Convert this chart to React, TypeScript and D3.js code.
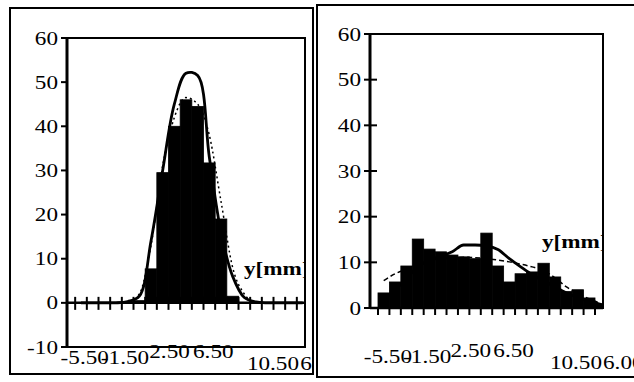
import * as d3 from 'd3';

// 20 class bins shared by both histograms
const BINS = d3.range(20);

// left panel: narrow distribution
const leftBars = [0, 0, 0, 0, 0, 0.5, 7.7, 29.5, 40, 46, 44.5, 31.7, 19, 1.5, 0, 0, 0, 0, 0, 0];
const leftFit = [0, 0, 0, 0, 0.3, 1.5, 14, 30, 45, 52, 51.5, 33, 16, 6, 1.2, 0.2, 0, 0, 0, 0];
const leftDotted = [0, 0, 0, 0, 0, 2, 13, 31, 42, 46.5, 45, 38, 23, 8, 2, 0, 0, 0, 0, 0];

// right panel: wide distribution
const rightBars = [3.3, 5.7, 9.2, 15.1, 12.9, 12.3, 11.6, 11.2, 10.8, 16.4, 9.2, 5.7, 7.5, 7.9, 9.8, 6.8, 3.6, 4, 2.2, 1];
const rightFit = [2, 4, 6.5, 9, 10.5, 11.3, 12.3, 13.8, 13.8, 13.6, 12.8, 10.8, 9, 7.3, 6, 4.6, 3.3, 2.3, 1.5, 0.8];
const rightDotted = [6, 7.5, 8.5, 9.5, 10.3, 10.8, 11, 11.1, 11, 10.8, 10.5, 10.1, 9.6, 9, 8.2, 6.6, 4.6, 3.2, 2, 1];

const xLabels = ['-5.50', '-1.50', '2.50', '6.50', '10.50', '6.00'];
const labelRow = [0, 0, -1, -1, 1, 1]; // staggered label rows
const leftLabelBin = [-1.25, 2.2, 6.35, 10.1, 14.72, 19.3]; // where each label starts, in bins
const rightLabelBin = [-1.25, 2.2, 6.35, 10.1, 15.05, 19.7];

const leftYTicks = [-10, 0, 10, 20, 30, 40, 50, 60];
const rightYTicks = [0, 10, 20, 30, 40, 50, 60];

const FONT = '"Liberation Serif", "Times New Roman", serif';
const FS = 19;
const STRETCH = 1.22;

const Txt = ({ x, y, anchor = 'start', bold = false, children }: any) => (
  <text
    transform={`translate(${x},${y}) scale(${STRETCH},1)`}
    textAnchor={anchor}
    fontSize={FS}
    fontWeight={bold ? 'bold' : 'normal'}
    style={{ fontFamily: FONT }}
  >
    {children}
  </text>
);

type PanelProps = {
  id: string;
  frame: { x: number; y: number; w: number; h: number };
  plot: { x: number; y: number; w: number; h: number };
  yTicks: number[];
  bars: number[];
  fit: number[];
  dotted: number[];
  dotDash: string;
  curve: d3.CurveFactory;
  labelBin: number[];
  labelBase: number;
  yTickOutside: boolean;
  unitY: number;
};

const Panel = (p: PanelProps) => {
  const { plot } = p;
  const step = plot.w / 20.4;
  const start = plot.x + step * 0.7;
  const x = d3.scaleBand<number>().domain(BINS).range([start, start + step * 20]).padding(0);
  const y = d3
    .scaleLinear()
    .domain(d3.extent(p.yTicks) as [number, number])
    .range([plot.y + plot.h, plot.y]);
  const y0 = y(0);
  const lx = d3.scaleLinear().domain([0, 1]).range([start, start + step]);

  const line = (curve: d3.CurveFactory) =>
    d3
      .line<number>()
      .x((_, i) => (x(i) ?? 0) + x.bandwidth() / 2)
      .y((d) => y(d))
      .curve(curve);

  const edges = d3
    .range(21)
    .map((i) => start + i * step)
    .filter((v) => v > plot.x + 1 && v < plot.x + plot.w);

  return (
    <g>
      <defs>
        <clipPath id={`clip-${p.id}`}>
          <rect x={plot.x} y={plot.y} width={plot.w} height={plot.h} />
        </clipPath>
        <clipPath id={`frame-${p.id}`}>
          <rect x={p.frame.x} y={p.frame.y} width={p.frame.w} height={p.frame.h} />
        </clipPath>
      </defs>
      <rect x={p.frame.x} y={p.frame.y} width={p.frame.w} height={p.frame.h} fill="white" stroke="black" strokeWidth={2} />
      <g clipPath={`url(#clip-${p.id})`}>
        {p.bars.map((v, i) =>
          v > 0 ? (
            <rect
              key={i}
              x={x(i)}
              y={y(v)}
              width={x.bandwidth()}
              height={y0 - y(v)}
              fill="black"
              stroke="black"
              strokeWidth={0.8}
            />
          ) : null
        )}
        <path
          d={line(d3.curveMonotoneX)(p.dotted) ?? ''}
          fill="none"
          stroke="black"
          strokeWidth={1.5}
          strokeDasharray={p.dotDash}
        />
        <path d={line(p.curve)(p.fit) ?? ''} fill="none" stroke="black" strokeWidth={2.8} />
        <Txt x={plot.x + plot.w - 61} y={p.unitY} bold>
          y[mm]
        </Txt>
      </g>
      <rect x={plot.x} y={plot.y} width={plot.w} height={plot.h} fill="none" stroke="black" strokeWidth={2} />
      <line x1={plot.x} x2={plot.x} y1={plot.y} y2={plot.y + plot.h} stroke="black" strokeWidth={3} />
      <line x1={plot.x} x2={plot.x + plot.w} y1={y0} y2={y0} stroke="black" strokeWidth={2.5} />
      {edges.map((e, i) => (
        <line
          key={i}
          x1={e}
          x2={e}
          y1={p.yTickOutside ? y0 - 6 : y0}
          y2={y0 + 7}
          stroke="black"
          strokeWidth={2}
        />
      ))}
      {p.yTicks.map((t) => (
        <g key={t}>
          <line
            x1={plot.x - 6}
            x2={p.yTickOutside ? plot.x : plot.x + 7}
            y1={y(t)}
            y2={y(t)}
            stroke="black"
            strokeWidth={2}
          />
          <Txt x={plot.x - 9} y={y(t) + 6.5} anchor="end">
            {t}
          </Txt>
        </g>
      ))}
      <g clipPath={`url(#frame-${p.id})`}>
        {xLabels.map((s, i) => (
          <Txt key={s} x={lx(p.labelBin[i])} y={p.labelBase + labelRow[i] * 6}>
            {s}
          </Txt>
        ))}
      </g>
    </g>
  );
};

export default function App() {
  return (
    <svg width={634} height={382} style={{ position: 'fixed', left: 0, top: 0, background: 'white' }}>
      <rect width={634} height={382} fill="white" />
      <Panel
        id="l"
        frame={{ x: 10, y: 8, w: 303, h: 366 }}
        plot={{ x: 67, y: 38, w: 238, h: 309 }}
        yTicks={leftYTicks}
        bars={leftBars}
        fit={leftFit}
        dotted={leftDotted}
        dotDash="2,3"
        curve={d3.curveCatmullRom}
        labelBin={leftLabelBin}
        labelBase={364}
        yTickOutside={true}
        unitY={275}
      />
      <Panel
        id="r"
        frame={{ x: 317, y: 5, w: 330, h: 372 }}
        plot={{ x: 370, y: 34, w: 233, h: 274 }}
        yTicks={rightYTicks}
        bars={rightBars}
        fit={rightFit}
        dotted={rightDotted}
        dotDash="5,3"
        curve={d3.curveMonotoneX}
        labelBin={rightLabelBin}
        labelBase={363}
        yTickOutside={false}
        unitY={248}
      />
    </svg>
  );
}
